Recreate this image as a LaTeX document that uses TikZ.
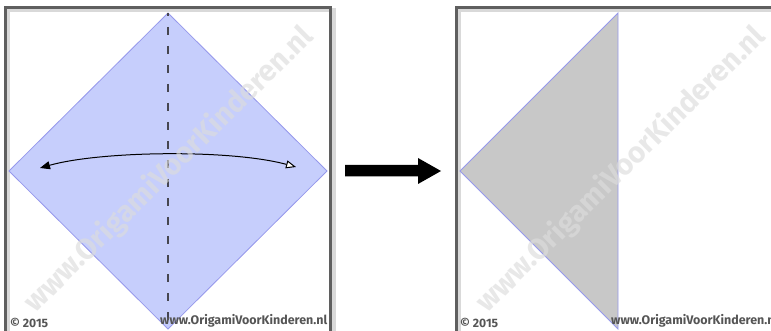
\documentclass[tikz,border=0pt]{standalone}
\usepackage{fontspec}
\setmainfont{Fira Sans}
\usepackage{graphicx}
\usetikzlibrary{arrows.meta}
\definecolor{paperblue}{RGB}{198,206,252}
\definecolor{paperedge}{RGB}{150,152,236}
\definecolor{papergray}{RGB}{200,200,200}
\definecolor{framegray}{RGB}{95,95,95}
\definecolor{creditgray}{RGB}{85,85,85}
\definecolor{wmgray}{RGB}{220,220,220}
\tikzset{
  framebox/.style={draw=framegray, line width=3pt},
  frameshadow/.style={draw=black, opacity=0.15, line width=4pt},
  paper/.style={fill=paperblue, draw=paperedge, line width=0.8pt},
  paperback/.style={fill=papergray, draw=paperedge, line width=0.8pt},
  valley/.style={draw={rgb,255:red,70;green,70;blue,80}, line width=1.5pt, dash pattern=on 8pt off 11pt, dash phase=5pt},
  foldarrow/.style={draw=black, line width=1pt, {Triangle[length=10pt,width=8pt]}-{Triangle[open,length=10pt,width=8pt,fill=white]}},
  bigarrow/.style={fill=black},
  credit/.style={inner sep=0pt, text=creditgray, font=\bfseries},
  watermark/.style={inner sep=0pt, text=wmgray, opacity=0.65, font=\bfseries, rotate=44.6},
}
\begin{document}
\begin{tikzpicture}[x=1pt,y=-1pt]
\useasboundingbox (0,0) rectangle (771,331);
\fill[white] (0,0) rectangle (771,331);
\begin{scope}
\clip (0,0) rectangle (771,331);
% frames with shadow
\draw[frameshadow] (8,10.5) rectangle (333.5,348);
\draw[framebox] (5.5,8) rectangle (330.5,345);
\draw[frameshadow] (458.5,10.5) rectangle (793,348);
\draw[framebox] (456,8) rectangle (790,345);

% left panel: square as diamond
\coordinate (dt) at (168,13);
\coordinate (dr) at (327,171);
\coordinate (db) at (168,329);
\coordinate (dl) at (9,171);
\draw[paper] (dt) -- (dr) -- (db) -- (dl) -- cycle;
\draw[valley] (dt) -- (db);
\coordinate (al) at (40,168);
\coordinate (ar) at (296,167);
\draw[foldarrow] (al) .. controls (100,151) and (230,149) .. (ar);

% right panel: folded triangle
\coordinate (tt) at (618,13);
\coordinate (tl) at (460,171);
\coordinate (tb) at (618,329);
\draw[paperback] (tt) -- (tb) -- (tl) -- cycle;

% big arrow between steps
\fill[bigarrow] (345,165) -- (418,165) -- (418,158) -- (441,171) -- (418,184) -- (418,176.5) -- (345,176.5) -- cycle;

% watermarks
\node[watermark] (wm1) at (169,170) {\resizebox{392pt}{!}{www.OrigamiVoorKinderen.nl}};
\node[watermark] (wm2) at (621,170) {\resizebox{392pt}{!}{www.OrigamiVoorKinderen.nl}};

% credits
\node[credit, anchor=south west] (c1) at (10,327.5) {\resizebox{38pt}{!}{© 2015}};
\node[credit, anchor=south west] (u1) at (160,327.5) {\resizebox{167pt}{!}{www.OrigamiVoorKinderen.nl}};
\node[credit, anchor=south west] (c2) at (460,327.5) {\resizebox{38pt}{!}{© 2015}};
\node[credit, anchor=south west] (u2) at (611,327.5) {\resizebox{167pt}{!}{www.OrigamiVoorKinderen.nl}};
\end{scope}
\end{tikzpicture}
\end{document}
